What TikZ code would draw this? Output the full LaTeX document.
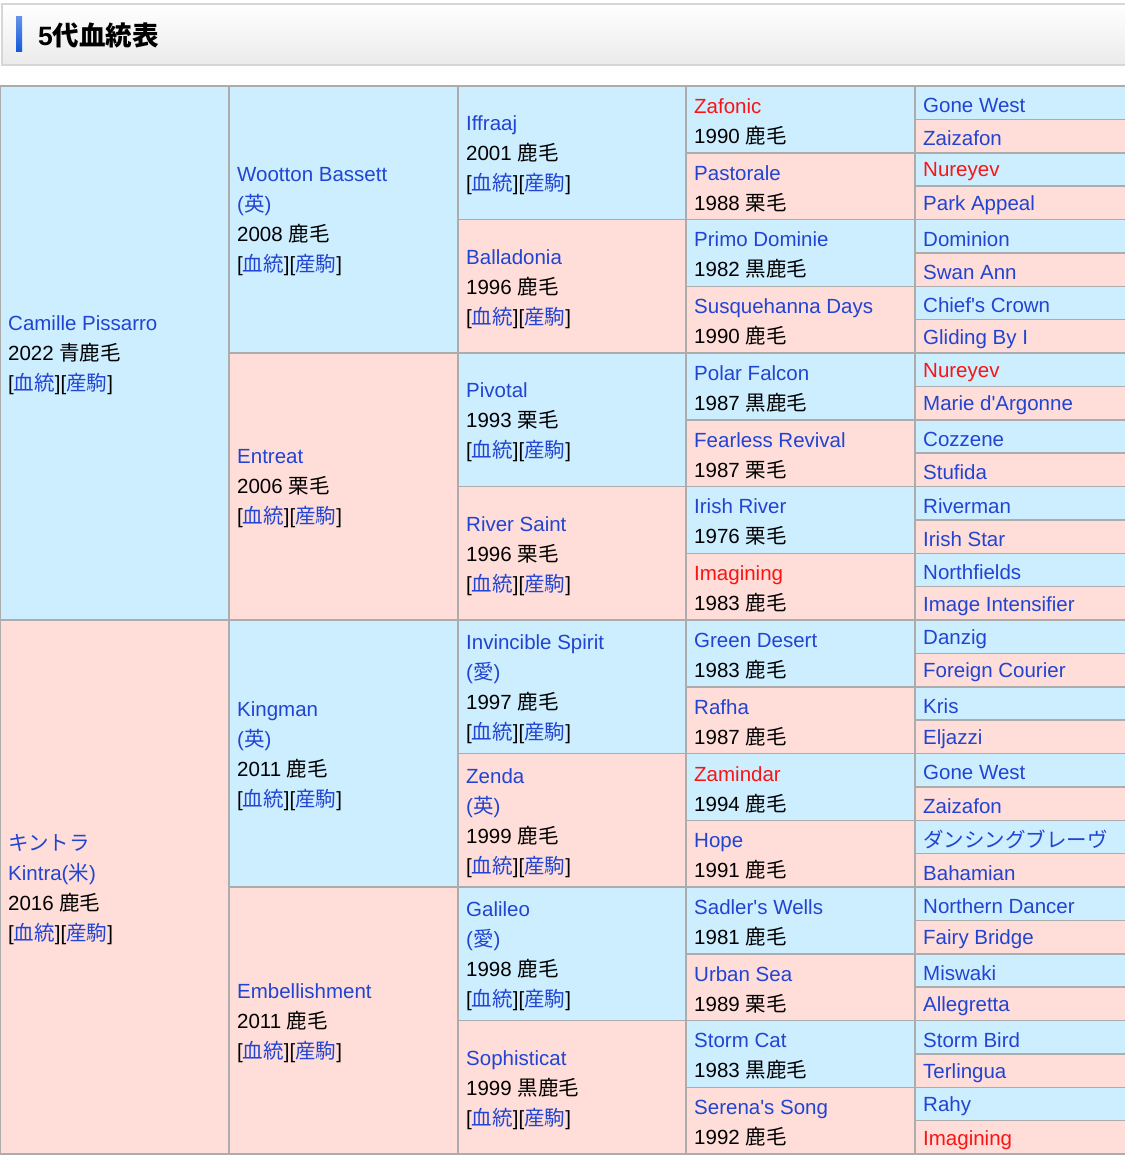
\documentclass[tikz,border=0pt]{standalone}
\usepackage{fontspec}
\setmainfont{Liberation Sans}[Ligatures=TeXOff]
\newfontfamily\jpfont{Noto Sans CJK JP}
\usepackage{xcolor}
\definecolor{sireblue}{RGB}{204,238,255}
\definecolor{dampink}{RGB}{255,221,216}
\definecolor{gridgray}{RGB}{172,172,172}
\definecolor{linkblue}{RGB}{34,68,210}
\definecolor{linkred}{RGB}{250,20,20}
\definecolor{barblue}{RGB}{20,90,220}

\newcommand{\jp}[1]{{\jpfont #1}}
\newcommand{\lk}[1]{\textcolor{linkblue}{#1}}
\newcommand{\rd}[1]{\textcolor{linkred}{#1}}
\newcommand{\yr}[2]{#1 \jp{#2}}
\newcommand{\bl}{[\lk{\jp{血統}}][\lk{\jp{産駒}}]}

\begin{document}
\begin{tikzpicture}[x=1pt,y=-1pt,
    cell/.style={draw=gridgray,line width=1.5pt},
    horse/.style={anchor=west,align=left,inner sep=0pt,font=\fontsize{20.5}{30}\selectfont}]
        \useasboundingbox (0,0) rectangle (1125,1163);

        % title bar
        \shade[top color=white,bottom color=black!8] (2,4) rectangle (1135,65);
        \draw[line width=1.5pt,black!16] (2,4) rectangle (1135,65);
        \shade[top color=barblue!65,bottom color=barblue] (16,16) rectangle (22,51);
        \node[anchor=west,inner sep=0pt,font=\fontsize{26.5}{30}\selectfont\bfseries] (title) at (38,35) {5\jp{代血統表}};

        % cells: sires blue, dams pink
        \foreach \g/\x/\w in {1/0/229,2/229/229,3/458/228,4/686/229,5/915/220} {
            \pgfmathtruncatemacro{\n}{2^\g}
            \pgfmathsetmacro{\hh}{1068/\n}
            \foreach \i in {1,...,\n} {
                \pgfmathtruncatemacro{\odd}{mod(\i,2)}
                \ifnum\odd=1 \def\col{sireblue}\else\def\col{dampink}\fi
                \draw[cell,fill=\col] (\x,{86+(\i-1)*\hh}) rectangle ++(\w,\hh);
            }
        }

        % generation 1
        \foreach \txt [count=\i] in {
            {\lk{Camille Pissarro}\\\yr{2022}{青鹿毛}\\\bl},
            {\lk{\jp{キントラ}}\\\lk{Kintra(\jp{米})}\\\yr{2016}{鹿毛}\\\bl}}
            \node[horse] (g1-\i) at (8,{88.5+(\i-0.5)*534}) {\txt};

        % generation 2
        \foreach \txt [count=\i] in {
            {\lk{Wootton Bassett}\\\lk{(\jp{英})}\\\yr{2008}{鹿毛}\\\bl},
            {\lk{Entreat}\\\yr{2006}{栗毛}\\\bl},
            {\lk{Kingman}\\\lk{(\jp{英})}\\\yr{2011}{鹿毛}\\\bl},
            {\lk{Embellishment}\\\yr{2011}{鹿毛}\\\bl}}
            \node[horse] (g2-\i) at (237,{88.5+(\i-0.5)*267}) {\txt};

        % generation 3
        \foreach \txt [count=\i] in {
            {\lk{Iffraaj}\\\yr{2001}{鹿毛}\\\bl},
            {\lk{Balladonia}\\\yr{1996}{鹿毛}\\\bl},
            {\lk{Pivotal}\\\yr{1993}{栗毛}\\\bl},
            {\lk{River Saint}\\\yr{1996}{栗毛}\\\bl},
            {\lk{Invincible Spirit}\\\lk{(\jp{愛})}\\\yr{1997}{鹿毛}\\\bl},
            {\lk{Zenda}\\\lk{(\jp{英})}\\\yr{1999}{鹿毛}\\\bl},
            {\lk{Galileo}\\\lk{(\jp{愛})}\\\yr{1998}{鹿毛}\\\bl},
            {\lk{Sophisticat}\\\yr{1999}{黒鹿毛}\\\bl}}
            \node[horse] (g3-\i) at (466,{88.5+(\i-0.5)*133.5}) {\txt};

        % generation 4
        \foreach \txt [count=\i] in {
            {\rd{Zafonic}\\\yr{1990}{鹿毛}},
            {\lk{Pastorale}\\\yr{1988}{栗毛}},
            {\lk{Primo Dominie}\\\yr{1982}{黒鹿毛}},
            {\lk{Susquehanna Days}\\\yr{1990}{鹿毛}},
            {\lk{Polar Falcon}\\\yr{1987}{黒鹿毛}},
            {\lk{Fearless Revival}\\\yr{1987}{栗毛}},
            {\lk{Irish River}\\\yr{1976}{栗毛}},
            {\rd{Imagining}\\\yr{1983}{鹿毛}},
            {\lk{Green Desert}\\\yr{1983}{鹿毛}},
            {\lk{Rafha}\\\yr{1987}{鹿毛}},
            {\rd{Zamindar}\\\yr{1994}{鹿毛}},
            {\lk{Hope}\\\yr{1991}{鹿毛}},
            {\lk{Sadler's Wells}\\\yr{1981}{鹿毛}},
            {\lk{Urban Sea}\\\yr{1989}{栗毛}},
            {\lk{Storm Cat}\\\yr{1983}{黒鹿毛}},
            {\lk{Serena's Song}\\\yr{1992}{鹿毛}}}
            \node[horse] (g4-\i) at (694,{88.5+(\i-0.5)*66.75}) {\txt};

        % generation 5
        \foreach \txt [count=\i] in {
            \lk{Gone West}, \lk{Zaizafon}, \rd{Nureyev}, \lk{Park Appeal},
            \lk{Dominion}, \lk{Swan Ann}, \lk{Chief's Crown}, \lk{Gliding By I},
            \rd{Nureyev}, \lk{Marie d'Argonne}, \lk{Cozzene}, \lk{Stufida},
            \lk{Riverman}, \lk{Irish Star}, \lk{Northfields}, \lk{Image Intensifier},
            \lk{Danzig}, \lk{Foreign Courier}, \lk{Kris}, \lk{Eljazzi},
            \lk{Gone West}, \lk{Zaizafon}, \lk{\jp{ダンシングブレーヴ}}, \lk{Bahamian},
            \lk{Northern Dancer}, \lk{Fairy Bridge}, \lk{Miswaki}, \lk{Allegretta},
            \lk{Storm Bird}, \lk{Terlingua}, \lk{Rahy}, \rd{Imagining}}
            \node[horse] (g5-\i) at (923,{88.5+(\i-0.5)*33.375}) {\txt};
    \end{tikzpicture}
\end{document}
